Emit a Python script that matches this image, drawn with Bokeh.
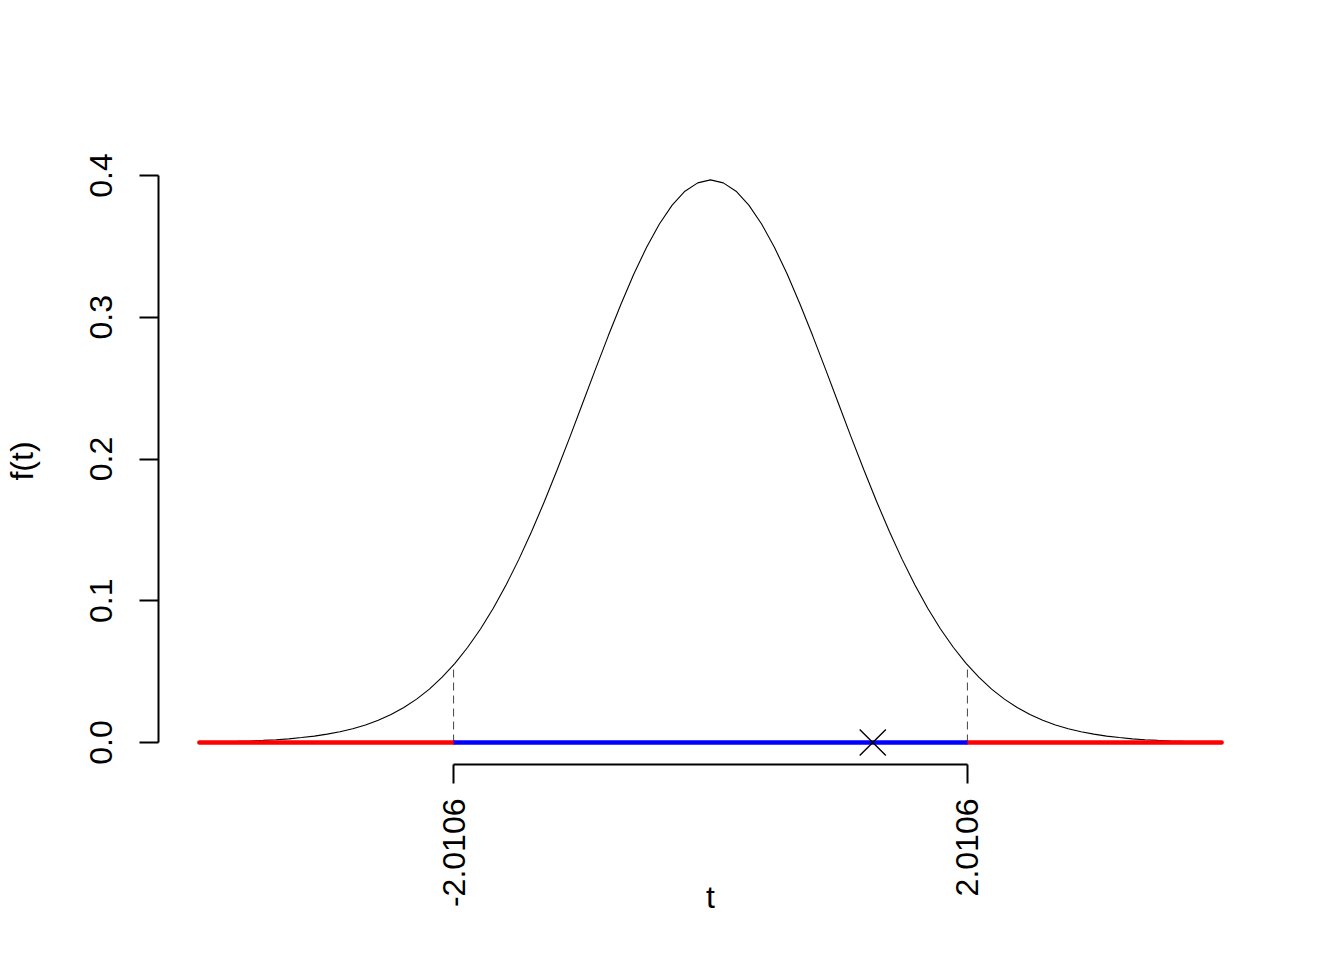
import math
from bokeh.plotting import figure
from bokeh.models import Range1d, FixedTicker, PrintfTickFormatter
from bokeh.embed import file_html
from bokeh.resources import INLINE

# ---- data ----
t_values = [-4.0, -3.9, -3.8, -3.7, -3.6, -3.5, -3.4, -3.3, -3.2, -3.1,
            -3.0, -2.9, -2.8, -2.7, -2.6, -2.5, -2.4, -2.3, -2.2, -2.1,
            -2.0, -1.9, -1.8, -1.7, -1.6, -1.5, -1.4, -1.3, -1.2, -1.1,
            -1.0, -0.9, -0.8, -0.7, -0.6, -0.5, -0.4, -0.3, -0.2, -0.1,
            0.0, 0.1, 0.2, 0.3, 0.4, 0.5, 0.6, 0.7, 0.8, 0.9,
            1.0, 1.1, 1.2, 1.3, 1.4, 1.5, 1.6, 1.7, 1.8, 1.9,
            2.0, 2.1, 2.2, 2.3, 2.4, 2.5, 2.6, 2.7, 2.8, 2.9,
            3.0, 3.1, 3.2, 3.3, 3.4, 3.5, 3.6, 3.7, 3.8, 3.9, 4.0]
density = [0.0003, 0.0005, 0.0006, 0.0008, 0.0011, 0.0015, 0.0020, 0.0026, 0.0035, 0.0045,
           0.0059, 0.0076, 0.0097, 0.0124, 0.0157, 0.0198, 0.0247, 0.0306, 0.0377, 0.0461,
           0.0558, 0.0672, 0.0801, 0.0947, 0.1111, 0.1292, 0.1489, 0.1700, 0.1924, 0.2156,
           0.2395, 0.2634, 0.2869, 0.3094, 0.3305, 0.3494, 0.3658, 0.3791, 0.3889, 0.3948,
           0.3969, 0.3948, 0.3889, 0.3791, 0.3658, 0.3494, 0.3305, 0.3094, 0.2869, 0.2634,
           0.2395, 0.2156, 0.1924, 0.1700, 0.1489, 0.1292, 0.1111, 0.0947, 0.0801, 0.0672,
           0.0558, 0.0461, 0.0377, 0.0306, 0.0247, 0.0198, 0.0157, 0.0124, 0.0097, 0.0076,
           0.0059, 0.0045, 0.0035, 0.0026, 0.0020, 0.0015, 0.0011, 0.0008, 0.0006, 0.0005, 0.0003]
t_min, t_max = -4.0, 4.0
crit_ticks = [-2.0106, 2.0106]
crit_density = 0.0547
t_observed = 1.27
y_ticks = [0.0, 0.1, 0.2, 0.3, 0.4]

FONT = "Liberation Sans"

p = figure(width=1336, height=952,
           x_range=Range1d(-4.32, 4.32), y_range=Range1d(-0.0155, 0.4127),
           output_backend="svg", toolbar_location=None,
           min_border_left=156, min_border_right=74,
           min_border_top=157, min_border_bottom=188)
p.grid.visible = False
p.outline_line_color = None
p.background_fill_color = "white"
p.border_fill_color = "white"

# density curve
p.line(t_values, density, line_color="black", line_width=1.1)

# dashed verticals at critical values
for c in crit_ticks:
    p.line([c, c], [0, crit_density], line_color="#444444", line_width=1,
           line_dash="8 5")

# rejection regions (red) and acceptance region (blue)
p.line([t_min, crit_ticks[0]], [0, 0], line_color="#FF0000", line_width=4.5, line_cap="round")
p.line([crit_ticks[1], t_max], [0, 0], line_color="#FF0000", line_width=4.5, line_cap="round")
p.line([crit_ticks[0], crit_ticks[1]], [0, 0], line_color="#0000FF", line_width=4.5)

# observed statistic
p.scatter([t_observed], [0], marker="x", size=37, line_color="black", line_width=1.4)

# axes
xa = p.xaxis[0]
xa.ticker = FixedTicker(ticks=crit_ticks)
xa.formatter = PrintfTickFormatter(format="%.4f")
xa.bounds = (crit_ticks[0], crit_ticks[1])
ya = p.yaxis[0]
ya.ticker = FixedTicker(ticks=y_ticks)
ya.formatter = PrintfTickFormatter(format="%.1f")
ya.bounds = (y_ticks[0], y_ticks[-1])
for ax in (xa, ya):
    ax.axis_line_width = 2
    ax.axis_line_color = "black"
    ax.major_tick_line_width = 2
    ax.major_tick_line_color = "black"
    ax.major_tick_out = 19
    ax.major_tick_in = 0
    ax.minor_tick_line_color = None
    ax.major_label_text_font = FONT
    ax.major_label_text_font_size = "32px"
    ax.major_label_text_color = "black"
    ax.axis_label_text_font = FONT
    ax.axis_label_text_font_size = "32px"
    ax.axis_label_text_font_style = "normal"
    ax.axis_label_text_color = "black"
xa.major_label_orientation = math.pi / 2
ya.major_label_orientation = "vertical"
xa.major_label_standoff = 15
ya.major_label_standoff = 27

xa.axis_label = "t"
xa.axis_label_standoff = -31
ya.axis_label = "f(t)"
ya.axis_label_standoff = 48

open("out.html", "w").write(file_html(p, INLINE))
